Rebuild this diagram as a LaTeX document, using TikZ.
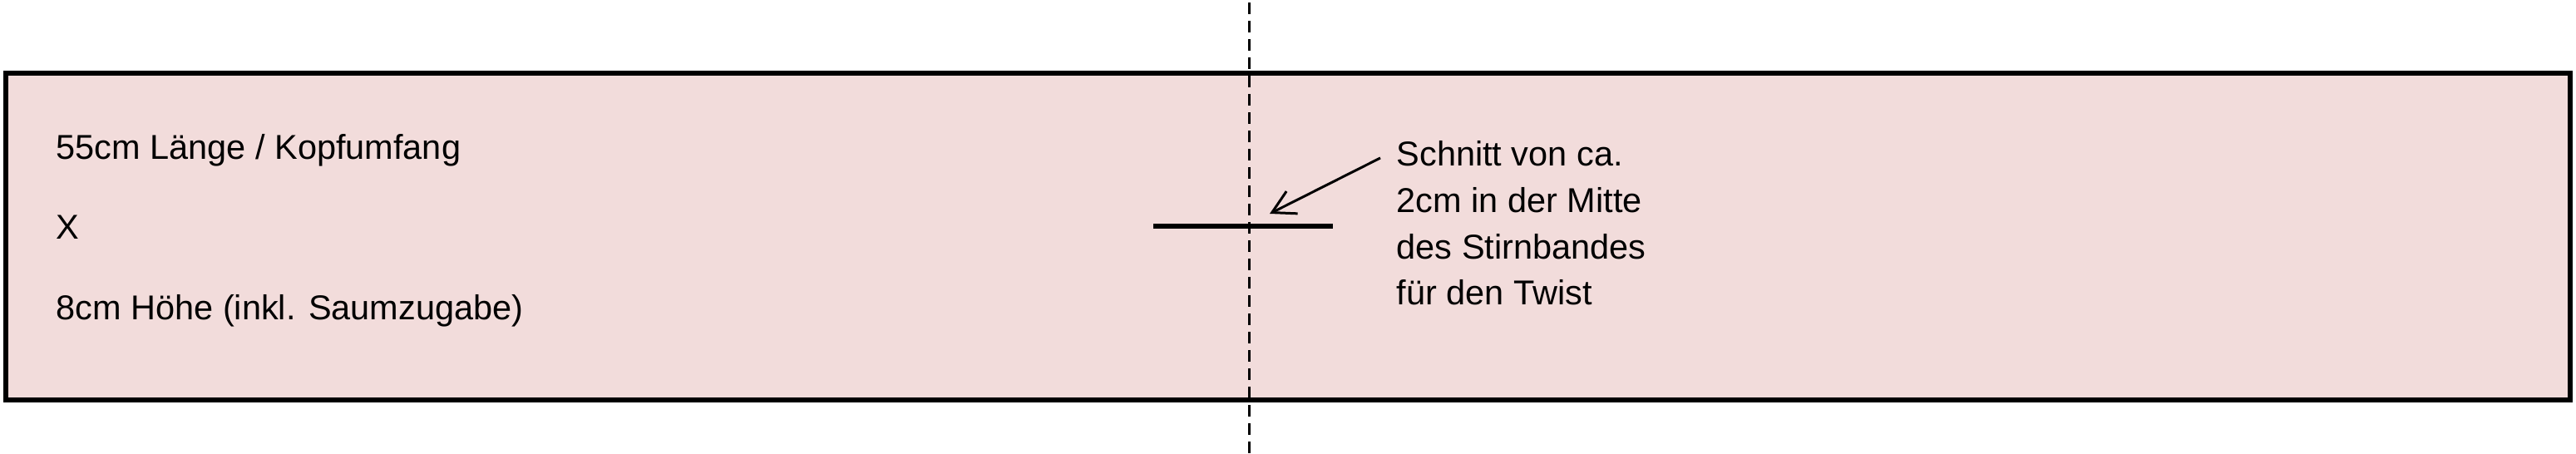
\documentclass[tikz,border=0pt]{standalone}
\usepackage{fontspec}
\setmainfont{Liberation Sans}
\usetikzlibrary{arrows.meta}
\definecolor{stoff}{RGB}{242,220,219}
\tikzset{
	schrift/.style={font=\fontsize{11.8}{15.85}\selectfont, inner sep=0pt},
	kante/.style={line width=0.065cm},
}

\begin{document}
\begin{tikzpicture}
		\useasboundingbox (0, 0) rectangle (30.98, 5.46);

		% Stirnband
		\draw[kante, fill=stoff] (0.07, 0.65) rectangle (30.91, 4.58);

		% Mittellinie
		\draw[line width=0.03cm, dash pattern=on 0.14cm off 0.08cm] (15.02, 5.43) -- (15.02, 0);

		% Schnitt
		\coordinate (schnittA) at (13.87, 2.74);
		\coordinate (schnittB) at (16.03, 2.74);
		\draw[kante] (schnittA) -- (schnittB);

		\node[schrift, anchor=base west] (laenge) at (0.67, 3.54) {55cm Länge / Kopfumfang};
		\node[schrift, anchor=base west] (mal) at (0.67, 2.58) {X};
		\node[schrift, anchor=base west] (hoehe) at (0.67, 1.61) {8cm Höhe (inkl. Saumzugabe)};

		\node[schrift, anchor=north west, align=left] (hinweis) at (16.79, 3.77)
			{Schnitt von ca.\\2cm in der Mitte\\des Stirnbandes\\für den Twist};

		\coordinate (pfeilstart) at (16.60, 3.56);
		\coordinate (pfeilziel) at (15.27, 2.89);
		\draw[line width=0.03cm, -{Straight Barb[length=0.27cm, width=0.30cm]}] (pfeilstart) -- (pfeilziel);
	\end{tikzpicture}
\end{document}
